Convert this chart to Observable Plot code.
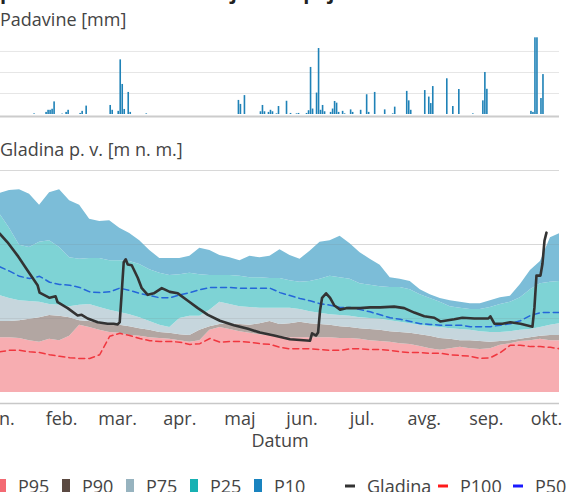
<!DOCTYPE html>
<html><head><meta charset="utf-8">
<script src="https://cdn.jsdelivr.net/npm/d3@7"></script>
<script src="https://cdn.jsdelivr.net/npm/@observablehq/plot@0.6"></script>
<style>
html,body{margin:0;padding:0;background:#fff;overflow:hidden;}
body{width:571px;height:492px;position:relative;font-family:"Open Sans",sans-serif;color:#444;}
.abs{position:absolute;}
svg text{font-family:"Open Sans",sans-serif;}
</style></head><body>
<div id="rain" class="abs" style="left:-40px;top:0;width:620px;"></div>
<div id="level" class="abs" style="left:-40px;top:140px;width:620px;"></div>
<svg id="overlay" class="abs" style="left:0;top:0;pointer-events:none" width="571" height="492"></svg>
<script>
// ---------- DATA ----------
const titleText = "podzemne vode in stanje med pojavom suše";
const rainLabel = "Padavine [mm]";
const levelLabel = "Gladina p. v. [m n. m.]";
const xLabel = "Datum";

const rainDates = ["2023-01-18","2023-01-24","2023-01-25","2023-01-26","2023-01-27","2023-01-28","2023-02-01","2023-02-03","2023-02-04","2023-02-10","2023-02-11","2023-02-13","2023-02-25","2023-02-26","2023-03-01","2023-03-02","2023-03-03","2023-03-04","2023-03-06","2023-03-07","2023-03-15","2023-04-30","2023-05-01","2023-05-03","2023-05-11","2023-05-12","2023-05-13","2023-05-15","2023-05-16","2023-05-17","2023-05-19","2023-05-20","2023-05-24","2023-05-26","2023-05-29","2023-05-30","2023-06-03","2023-06-04","2023-06-05","2023-06-06","2023-06-08","2023-06-09","2023-06-10","2023-06-11","2023-06-12","2023-06-15","2023-06-16","2023-06-17","2023-06-18","2023-06-19","2023-06-21","2023-06-22","2023-06-25","2023-06-26","2023-06-30","2023-07-03","2023-07-04","2023-07-07","2023-07-12","2023-07-16","2023-07-17","2023-07-23","2023-07-24","2023-07-25","2023-08-01","2023-08-03","2023-08-04","2023-08-05","2023-08-12","2023-08-15","2023-08-18","2023-08-25","2023-08-30","2023-08-31","2023-09-01","2023-09-23","2023-09-24","2023-09-25","2023-09-26","2023-09-28","2023-09-29"];
const rainMm = [0.3,1,2,2,2.5,6,0.2,1,2,0.5,1.5,4,4.3,2,1.5,26,14.3,2.4,10.5,1,0.3,6.7,4.8,9,1.3,4.3,1.3,1,2,1.3,0.3,3.8,6.3,0.5,0.3,0.5,0.5,1.8,22.4,2.6,10.2,31.4,2,4.3,1.3,1,2.6,6.2,5.4,1,1.5,0.3,2.2,1,2,9.4,1,10.5,2.2,0.3,3.5,11,6.5,2,11.4,8.3,5.2,13.3,17,3.8,11.9,0.3,6.5,20,12,1.5,1,36.5,36.5,7.6,19];
const rainGrid = [10, 20, 30];

const bandDates = ["2023-01-01","2023-01-06","2023-01-11","2023-01-16","2023-01-21","2023-01-26","2023-01-31","2023-02-05","2023-02-10","2023-02-15","2023-02-20","2023-02-25","2023-03-02","2023-03-07","2023-03-12","2023-03-17","2023-03-22","2023-03-27","2023-04-01","2023-04-06","2023-04-11","2023-04-16","2023-04-21","2023-04-26","2023-05-01","2023-05-06","2023-05-11","2023-05-16","2023-05-21","2023-05-26","2023-05-31","2023-06-05","2023-06-10","2023-06-15","2023-06-20","2023-06-25","2023-06-30","2023-07-05","2023-07-10","2023-07-15","2023-07-20","2023-07-25","2023-07-30","2023-08-04","2023-08-09","2023-08-14","2023-08-19","2023-08-24","2023-08-29","2023-09-03","2023-09-08","2023-09-13","2023-09-18","2023-09-23","2023-09-28","2023-10-03","2023-10-08"];
const p10 = [292.69,292.73,292.74,292.68,292.53,292.70,292.74,292.59,292.53,292.34,292.31,292.32,292.22,292.15,292.05,291.92,291.81,291.81,291.81,291.84,291.95,291.92,291.85,291.82,291.78,291.84,291.82,291.84,291.93,291.85,291.80,291.91,292.03,292.05,292.11,292.01,291.89,291.80,291.72,291.55,291.53,291.50,291.39,291.32,291.27,291.24,291.22,291.20,291.20,291.24,291.28,291.30,291.46,291.65,291.77,292.09,292.15];
const p25 = [292.42,292.22,291.99,291.96,292.03,292.05,291.96,291.82,291.80,291.81,291.81,291.78,291.78,291.77,291.73,291.66,291.61,291.58,291.59,291.61,291.59,291.58,291.58,291.58,291.57,291.55,291.55,291.54,291.54,291.51,291.49,291.50,291.53,291.57,291.55,291.53,291.47,291.45,291.43,291.42,291.42,291.39,291.32,291.27,291.22,291.16,291.14,291.12,291.12,291.15,291.19,291.22,291.28,291.39,291.47,291.49,291.50];
const p50 = [291.70,291.64,291.57,291.54,291.57,291.49,291.46,291.45,291.42,291.36,291.35,291.36,291.41,291.38,291.34,291.31,291.28,291.28,291.32,291.35,291.39,291.42,291.42,291.42,291.41,291.41,291.41,291.41,291.35,291.31,291.27,291.24,291.20,291.18,291.15,291.15,291.12,291.09,291.05,291.01,290.99,290.96,290.93,290.92,290.91,290.91,290.91,290.89,290.89,290.89,290.91,290.93,290.97,291.04,291.08,291.08,291.08];
const p75 = [291.31,291.27,291.24,291.23,291.22,291.19,291.18,291.16,291.18,291.19,291.15,291.11,291.08,291.05,291.01,290.96,290.91,290.88,291.00,291.03,291.03,291.11,291.22,291.19,291.16,291.15,291.14,291.14,291.14,291.14,291.12,291.09,291.07,291.05,291.04,291.03,291.01,291.00,290.99,290.97,290.95,290.93,290.91,290.89,290.88,290.86,290.85,290.84,290.82,290.81,290.81,290.82,290.84,290.85,290.88,290.91,290.93];
const p90 = [290.96,290.96,290.97,290.99,291.01,291.04,291.03,291.01,290.97,290.96,290.93,290.92,290.91,290.89,290.86,290.84,290.81,290.80,290.78,290.77,290.84,290.89,290.92,290.93,290.92,290.91,290.93,290.96,290.92,290.93,290.95,290.93,290.92,290.91,290.89,290.88,290.86,290.85,290.84,290.82,290.81,290.80,290.78,290.76,290.73,290.72,290.70,290.70,290.69,290.68,290.69,290.70,290.72,290.74,290.76,290.77,290.77];
const p95 = [290.74,290.74,290.73,290.70,290.68,290.72,290.70,290.76,290.91,290.88,290.84,290.81,290.80,290.77,290.76,290.74,290.73,290.72,290.70,290.68,290.70,290.84,290.88,290.85,290.82,290.80,290.78,290.77,290.76,290.74,290.74,290.74,290.74,290.74,290.73,290.73,290.72,290.70,290.69,290.68,290.66,290.65,290.62,290.59,290.57,290.59,290.61,290.59,290.58,290.59,290.64,290.66,290.69,290.70,290.72,290.70,290.70];
const p100 = [290.55,290.57,290.57,290.55,290.54,290.51,290.49,290.47,290.46,290.46,290.51,290.76,290.80,290.77,290.73,290.70,290.69,290.69,290.68,290.65,290.66,290.73,290.68,290.69,290.69,290.68,290.66,290.65,290.61,290.59,290.59,290.59,290.58,290.57,290.57,290.59,290.59,290.58,290.58,290.57,290.55,290.54,290.54,290.53,290.53,290.51,290.50,290.49,290.46,290.47,290.54,290.64,290.64,290.62,290.62,290.61,290.59];
const bandBase = 290.0;

const gladinaDates = ["2023-01-01","2023-01-05","2023-01-10","2023-01-15","2023-01-20","2023-01-21","2023-01-26","2023-01-29","2023-01-30","2023-02-04","2023-02-09","2023-02-11","2023-02-14","2023-02-19","2023-02-24","2023-02-27","2023-03-01","2023-03-02","2023-03-03","2023-03-04","2023-03-05","2023-03-06","2023-03-08","2023-03-11","2023-03-13","2023-03-16","2023-03-19","2023-03-23","2023-03-27","2023-03-31","2023-04-05","2023-04-10","2023-04-15","2023-04-21","2023-04-28","2023-05-05","2023-05-11","2023-05-18","2023-05-26","2023-06-05","2023-06-06","2023-06-08","2023-06-09","2023-06-10","2023-06-11","2023-06-13","2023-06-15","2023-06-17","2023-06-20","2023-06-23","2023-06-30","2023-07-05","2023-07-10","2023-07-17","2023-07-22","2023-07-27","2023-08-01","2023-08-06","2023-08-09","2023-08-16","2023-08-20","2023-08-26","2023-09-02","2023-09-03","2023-09-05","2023-09-09","2023-09-13","2023-09-18","2023-09-24","2023-09-25","2023-09-26","2023-09-28","2023-09-29","2023-09-30","2023-10-01"];
const gladinaLevel = [292.15,292.03,291.85,291.65,291.45,291.35,291.28,291.30,291.22,291.14,291.04,291.05,291.00,290.95,290.93,290.93,290.92,290.95,291.35,291.76,291.80,291.73,291.72,291.55,291.41,291.32,291.34,291.41,291.36,291.34,291.24,291.14,291.05,290.97,290.91,290.86,290.81,290.77,290.72,290.70,290.80,290.77,290.81,291.11,291.28,291.34,291.28,291.18,291.12,291.14,291.14,291.15,291.15,291.16,291.14,291.08,291.03,291.01,290.96,290.99,291.01,291.00,291.00,291.03,290.93,290.93,290.95,290.93,290.89,291.15,291.58,291.58,291.74,292.05,292.16];
const levelGrid = [291, 292, 293];

const monthTicks = ["2023-01-01","2023-02-01","2023-03-01","2023-04-01","2023-05-01","2023-06-01","2023-07-01","2023-08-01","2023-09-01","2023-10-01"];
const monthLabels = ["jan.","feb.","mar.","apr.","maj","jun.","jul.","avg.","sep.","okt."];

const legendAreaNames = ["P95","P90","P75","P25","P10"];
const legendAreaColors = ["#f36a73","#5b4a42","#97b3bf","#17b1b3","#1983bf"];
const legendLineNames = ["Gladina","P100","P50"];
const legendLineColors = ["#333333","#ff1a1a","#1a1aff"];

// ---------- BUILD ----------
const parse = d3.utcParse("%Y-%m-%d");
const t0 = parse("2023-01-01");
const xDomain = [t0, new Date(+t0 + 279.5 * 864e5)];

const rain = rainDates.map((d, i) => ({x1: parse(d), x2: d3.utcDay.offset(parse(d), 1), mm: rainMm[i]}));
const bands = bandDates.map((d, i) => ({date: parse(d), p10: p10[i], p25: p25[i], p50: p50[i], p75: p75[i], p90: p90[i], p95: p95[i], p100: p100[i]}));
const gladina = gladinaDates.map((d, i) => ({date: parse(d), level: gladinaLevel[i]}));
const ticks = monthTicks.map(parse);

const common = {
  width: 620, marginLeft: 39, marginRight: 21,
  style: {background: "transparent", maxWidth: "none", overflow: "visible", fontFamily: "Open Sans", color: "#444"}
};

const rainChart = Plot.plot({
  ...common, height: 120, marginTop: 35, marginBottom: 6,
  x: {type: "utc", domain: xDomain, axis: null},
  y: {domain: [0, 37.6], axis: null},
  marks: [
    Plot.ruleY(rainGrid, {stroke: "#e6e6e6", strokeWidth: 1}),
    Plot.rectY(rain, {x1: "x1", x2: "x2", y: "mm", fill: "#1f82b7", insetLeft: 0.2, insetRight: 0.2}),
    Plot.ruleY([0], {stroke: "#cccccc", strokeWidth: 2, dy: 2})
  ]
});
document.getElementById("rain").appendChild(rainChart);

const yBottom = 290 - 11 / 74, yTop = 290 + 229 / 74;
const levelChart = Plot.plot({
  ...common, height: 330, marginTop: 23, marginBottom: 67,
  x: {type: "utc", domain: xDomain},
  y: {domain: [yBottom, yTop], axis: null},
  marks: [
    Plot.ruleY(levelGrid, {stroke: "#e8e8e8"}),
    Plot.areaY(bands, {x: "date", y1: bandBase, y2: "p95", fill: "#f7adb1", clip: true}),
    Plot.areaY(bands, {x: "date", y1: "p95", y2: "p90", fill: "#b2a6a2", clip: true}),
    Plot.areaY(bands, {x: "date", y1: "p90", y2: "p75", fill: "#c6d6dd", clip: true}),
    Plot.areaY(bands, {x: "date", y1: "p75", y2: "p25", fill: "#7ed3d5", clip: true}),
    Plot.areaY(bands, {x: "date", y1: "p25", y2: "p10", fill: "#7cbdd8", clip: true}),
    Plot.ruleY(levelGrid, {stroke: "#7a7a7a", strokeOpacity: 0.14}),
    Plot.line(bands, {x: "date", y: "p100", stroke: "#f0373f", strokeWidth: 1.5, strokeDasharray: "6,4", clip: true}),
    Plot.line(bands, {x: "date", y: "p50", stroke: "#2466d9", strokeWidth: 1.5, strokeDasharray: "6,4", clip: true}),
    Plot.line(gladina, {x: "date", y: "level", stroke: "#333333", strokeWidth: 2.6, strokeLinejoin: "round", clip: true}),
    Plot.ruleY([yBottom], {stroke: "#c8c8c8", strokeWidth: 1.5}),
    Plot.axisX({ticks, tickFormat: d => monthLabels[d.getUTCMonth()], tickSize: 0, tickPadding: 9, fontSize: 18, label: null, fill: "#444"})
  ]
});
document.getElementById("level").appendChild(levelChart);

// ---------- TEXT & LEGEND ----------
const ov = d3.select("#overlay");
ov.append("text").attr("x", 0).attr("y", -1).attr("font-size", 20).attr("font-weight", 700).attr("fill", "#222").text(titleText);
ov.append("text").attr("x", 0).attr("y", 26).attr("font-size", 18).attr("fill", "#444").text(rainLabel);
ov.append("text").attr("x", 0).attr("y", 156).attr("font-size", 18).attr("fill", "#444").text(levelLabel);
ov.append("text").attr("x", 280).attr("y", 447).attr("font-size", 18).attr("fill", "#444").attr("text-anchor", "middle").text(xLabel);

legendAreaNames.forEach((n, i) => {
  const x = -2 + 64 * i;
  ov.append("rect").attr("x", x).attr("y", 479).attr("width", 8).attr("height", 14).attr("fill", legendAreaColors[i]);
  ov.append("text").attr("x", x + 20).attr("y", 493).attr("font-size", 18).attr("fill", "#444").text(n);
});
const lineX = [345, 438, 513];
legendLineNames.forEach((n, i) => {
  const x = lineX[i];
  ov.append("line").attr("x1", x).attr("x2", x + 10).attr("y1", 486).attr("y2", 486).attr("stroke", legendLineColors[i]).attr("stroke-width", 3);
  ov.append("text").attr("x", x + 22).attr("y", 493).attr("font-size", 18).attr("fill", "#444").text(n);
});
</script>
</body></html>
